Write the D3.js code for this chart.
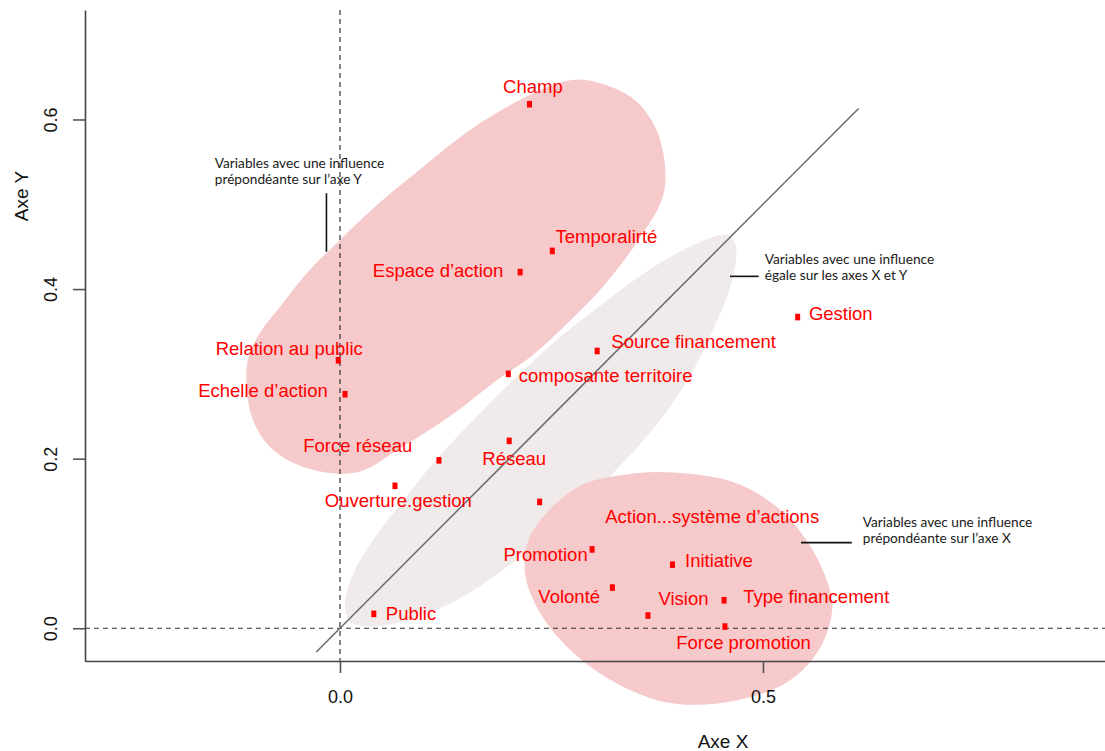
<!DOCTYPE html>
<html>
<head>
<meta charset="utf-8">
<script src="https://cdnjs.cloudflare.com/ajax/libs/d3/7.8.5/d3.min.js"></script>
<style>
  body { margin: 0; background: #fff; }
  svg { display: block; }
</style>
</head>
<body>
<div id="chart"></div>
<script>
// variables and their coordinates on the two axes
var names = ["Champ", "Temporalirté", "Espace d’action", "Gestion", "Source financement",
  "composante territoire", "Relation au public", "Echelle d’action", "Réseau", "Force réseau",
  "Ouverture.gestion", "Action...système d’actions", "Promotion", "Initiative", "Volonté",
  "Vision", "Type financement", "Force promotion", "Public"];
var xValues = [0.224, 0.251, 0.213, 0.541, 0.304, 0.199, -0.002, 0.006, 0.200, 0.117,
  0.065, 0.236, 0.298, 0.393, 0.322, 0.364, 0.454, 0.455, 0.040];
var yValues = [0.618, 0.445, 0.420, 0.367, 0.327, 0.300, 0.316, 0.276, 0.221, 0.198,
  0.168, 0.149, 0.093, 0.075, 0.048, 0.015, 0.033, 0.002, 0.017];

// where each label sits (centre, baseline), in axis units
var labelX = [0.228, 0.315, 0.116, 0.592, 0.418, 0.314, -0.060, -0.091, 0.206, 0.021,
  0.069, 0.440, 0.243, 0.448, 0.271, 0.406, 0.563, 0.477, 0.084];
var labelY = [0.631, 0.454, 0.414, 0.363, 0.330, 0.290, 0.322, 0.273, 0.193, 0.208,
  0.143, 0.124, 0.079, 0.072, 0.030, 0.028, 0.030, -0.024, 0.010];

var xTicks = [0, 0.5];
var yTicks = [0, 0.2, 0.4, 0.6];

// outlines of the three groups (axis units)
var groupY = [[0.284, 0.647], [0.343, 0.627], [0.370, 0.596], [0.382, 0.561], [0.384, 0.520],
  [0.375, 0.493], [0.358, 0.466], [0.339, 0.438], [0.304, 0.395], [0.264, 0.355],
  [0.225, 0.320], [0.186, 0.293], [0.145, 0.261], [0.106, 0.234], [0.067, 0.210],
  [0.036, 0.190], [0.015, 0.183], [-0.012, 0.183], [-0.051, 0.193], [-0.083, 0.214],
  [-0.103, 0.246], [-0.110, 0.281], [-0.109, 0.316], [-0.095, 0.348], [-0.071, 0.379],
  [-0.039, 0.419], [0.000, 0.458], [0.047, 0.502], [0.098, 0.544], [0.154, 0.588],
  [0.205, 0.619], [0.245, 0.638]];
var groupXY = [[0.457, 0.464], [0.467, 0.454], [0.468, 0.434], [0.459, 0.395], [0.441, 0.352],
  [0.418, 0.305], [0.390, 0.261], [0.359, 0.222], [0.323, 0.183], [0.288, 0.147],
  [0.244, 0.108], [0.193, 0.069], [0.138, 0.033], [0.087, 0.012], [0.039, 0.002],
  [0.012, 0.008], [0.006, 0.030], [0.016, 0.065], [0.039, 0.104], [0.075, 0.151],
  [0.114, 0.199], [0.158, 0.246], [0.205, 0.293], [0.256, 0.340], [0.311, 0.383],
  [0.366, 0.423], [0.418, 0.452]];
var groupX = [[0.337, 0.181], [0.384, 0.184], [0.463, 0.173], [0.514, 0.145], [0.550, 0.106],
  [0.573, 0.063], [0.582, 0.027], [0.573, -0.012], [0.553, -0.043], [0.523, -0.067],
  [0.482, -0.082], [0.431, -0.090], [0.384, -0.087], [0.337, -0.070], [0.298, -0.047],
  [0.258, -0.011], [0.231, 0.028], [0.219, 0.063], [0.222, 0.102], [0.246, 0.138],
  [0.286, 0.169]];

// the x = y reference line
var diagRange = [-0.028, 0.613];

// annotations
var noteText = [
  ["Variables avec une influence", "prépondéante sur l’axe Y"],
  ["Variables avec une influence", "égale sur les axes X et Y"],
  ["Variables avec une influence", "prépondéante sur l’axe X"]];
var noteX = [-0.148, 0.502, 0.618];
var noteY = [0.543, 0.430, 0.120];
var noteLeader = [
  [[-0.016, 0.513], [-0.016, 0.444]],
  [[0.461, 0.415], [0.495, 0.415]],
  [[0.545, 0.101], [0.605, 0.101]]];

var svgWidth = 1105,
    svgHeight = 751;

var xScale = d3.scaleLinear().domain([-0.3014, 0.9043]).range([85, 1105]);
var yScale = d3.scaleLinear().domain([-0.0386, 0.7291]).range([661, 10]);

var svg = d3.select("#chart")
    .append("svg")
    .attr("width", svgWidth)
    .attr("height", svgHeight);

var outline = d3.line()
    .x(d => xScale(d[0]))
    .y(d => yScale(d[1]))
    .curve(d3.curveCatmullRomClosed);

// group shapes
svg.append("path").attr("d", outline(groupXY)).attr("fill", "#f0eaea");
svg.append("path").attr("d", outline(groupY)).attr("fill", "#f6c9ca");
svg.append("path").attr("d", outline(groupX)).attr("fill", "#f6c9ca");

// dashed zero lines
svg.append("line")
    .attr("x1", xScale.range()[0]).attr("x2", xScale.range()[1])
    .attr("y1", yScale(0)).attr("y2", yScale(0))
    .attr("stroke", "#333").attr("stroke-width", 1.2)
    .attr("stroke-dasharray", "5,4");
svg.append("line")
    .attr("x1", xScale(0)).attr("x2", xScale(0))
    .attr("y1", yScale.range()[1]).attr("y2", yScale.range()[0])
    .attr("stroke", "#333").attr("stroke-width", 1.2)
    .attr("stroke-dasharray", "5,4");

// x = y line
svg.append("line")
    .attr("x1", xScale(diagRange[0])).attr("y1", yScale(diagRange[0]))
    .attr("x2", xScale(diagRange[1])).attr("y2", yScale(diagRange[1]))
    .attr("stroke", "#6a6a6a").attr("stroke-width", 1.5);

// axes
var bottomAxis = d3.axisBottom(xScale).tickValues(xTicks).tickFormat(d3.format(".1f"))
    .tickSize(12).tickSizeOuter(0);
var leftAxis = d3.axisLeft(yScale).tickValues(yTicks).tickFormat(d3.format(".1f"))
    .tickSize(12).tickSizeOuter(0);

var xAxis = svg.append("g")
    .attr("transform", "translate(0," + yScale.range()[0] + ")")
    .call(bottomAxis);
var yAxis = svg.append("g")
    .attr("transform", "translate(" + xScale.range()[0] + ",0)")
    .call(leftAxis);

[xAxis, yAxis].forEach(function(ax) {
  ax.select(".domain").attr("stroke", "#444").attr("stroke-width", 1.6);
  ax.selectAll(".tick line").attr("stroke", "#555").attr("stroke-width", 1.6);
  ax.selectAll(".tick text")
    .attr("fill", "#111")
    .style("font-family", "'Liberation Sans', Arial, sans-serif")
    .style("font-size", "18px");
});
xAxis.selectAll(".tick text").attr("y", 42).attr("dy", 0);
yAxis.selectAll(".tick text")
    .attr("transform", "rotate(-90)")
    .attr("text-anchor", "middle")
    .attr("x", 0).attr("y", -28).attr("dy", 0);

// axis titles
svg.append("text")
    .attr("x", 723).attr("y", 748)
    .attr("text-anchor", "middle")
    .style("font-family", "'Liberation Sans', Arial, sans-serif")
    .style("font-size", "19px")
    .attr("fill", "#111")
    .text("Axe X");
svg.append("text")
    .attr("transform", "translate(28,196) rotate(-90)")
    .attr("text-anchor", "middle")
    .style("font-family", "'Liberation Sans', Arial, sans-serif")
    .style("font-size", "19px")
    .attr("fill", "#111")
    .text("Axe Y");

// points and labels
var points = names.map(function(n, i) {
  return {name: n, x: xValues[i], y: yValues[i], lx: labelX[i], ly: labelY[i]};
});

svg.selectAll(".pt")
    .data(points)
    .enter()
    .append("rect")
    .attr("class", "pt")
    .attr("x", d => xScale(d.x) - 2.5)
    .attr("y", d => yScale(d.y) - 3.3)
    .attr("width", 5)
    .attr("height", 6.6)
    .attr("fill", "#ff0000");

svg.selectAll(".lbl")
    .data(points)
    .enter()
    .append("text")
    .attr("class", "lbl")
    .attr("x", d => xScale(d.lx))
    .attr("y", d => yScale(d.ly))
    .attr("text-anchor", "middle")
    .style("font-family", "'Liberation Sans', Arial, sans-serif")
    .style("font-size", "18.5px")
    .attr("fill", "#ff0000")
    .text(d => d.name);

// annotations with leader lines
noteText.forEach(function(lines, i) {
  var t = svg.append("text")
      .attr("x", xScale(noteX[i]))
      .attr("y", yScale(noteY[i]))
      .style("font-family", "Lato, 'Open Sans', sans-serif")
      .style("font-size", "13.7px")
      .attr("fill", "#1a1a1a");
  lines.forEach(function(l, j) {
    t.append("tspan")
      .attr("x", xScale(noteX[i]))
      .attr("dy", j === 0 ? 0 : 16.5)
      .text(l);
  });
  svg.append("line")
      .attr("x1", xScale(noteLeader[i][0][0])).attr("y1", yScale(noteLeader[i][0][1]))
      .attr("x2", xScale(noteLeader[i][1][0])).attr("y2", yScale(noteLeader[i][1][1]))
      .attr("stroke", "#111").attr("stroke-width", 1.6);
});
</script>
</body>
</html>
